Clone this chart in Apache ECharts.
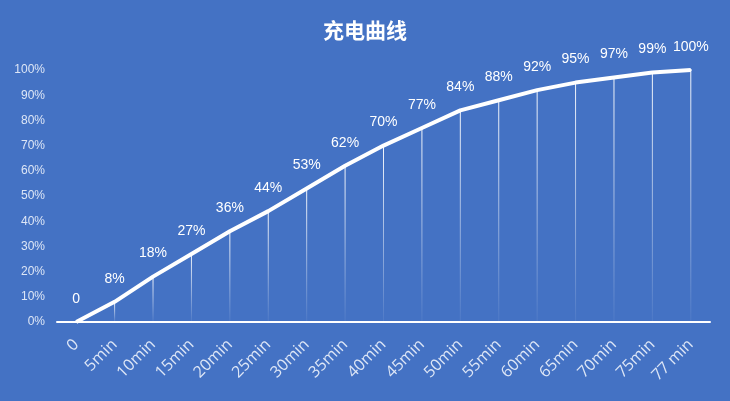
<!DOCTYPE html>
<html><head><meta charset="utf-8">
<script src="https://cdn.jsdelivr.net/npm/echarts@6/dist/echarts.min.js"></script>
<style>html,body{margin:0;padding:0;background:#4472C4;}#c{width:730px;height:401px;}</style>
</head><body><div id="c"></div>
<script>
const categories = ['0','5min','10min','15min','20min','25min','30min','35min','40min','45min','50min','55min','60min','65min','70min','75min','77 min'];
const values = [0,8,18,27,36,44,53,62,70,77,84,88,92,95,97,99,100];
const yTicks = [0,10,20,30,40,50,60,70,80,90,100];

const chart = echarts.init(document.getElementById('c'));
chart.setOption({
  backgroundColor:'#4472C4',
  animation:false,
  title:{text:'充电曲线',left:'center',top:15,textStyle:{color:'#fff',fontSize:21,fontWeight:'bold',fontFamily:'Noto Sans CJK SC'}},
  grid:{left:57,right:20,top:70,bottom:79},
  xAxis:{type:'category',data:categories,boundaryGap:true,
    axisLine:{lineStyle:{color:'#fff',width:2}},axisTick:{show:false},
    axisLabel:{rotate:45,color:'#dde6f6',fontSize:16,fontFamily:'Open Sans',margin:20,interval:0}},
  yAxis:{type:'value',min:0,max:100,interval:10,
    axisLine:{show:false},axisTick:{show:false},splitLine:{show:false},
    axisLabel:{color:'#dde6f6',fontSize:12,fontFamily:'Liberation Sans',formatter:v=>v+'%',margin:12}},
  series:[
    {type:'bar',data:values,barWidth:1,silent:true,
     itemStyle:{color:new echarts.graphic.LinearGradient(0,0,0,1,[{offset:0,color:'rgba(255,255,255,0.95)'},{offset:1,color:'rgba(255,255,255,0.05)'}])}},
    {type:'line',data:values,symbol:'circle',symbolSize:2,showSymbol:true,
     itemStyle:{color:'#fff',borderWidth:0},
     lineStyle:{color:'#fff',width:4},
     label:{show:true,position:'top',distance:15,color:'#fff',fontSize:14,fontWeight:'normal',fontFamily:'Liberation Sans',
       formatter:p=>p.dataIndex===0?'0':p.value+'%'}},
  ]
});
</script></body></html>
